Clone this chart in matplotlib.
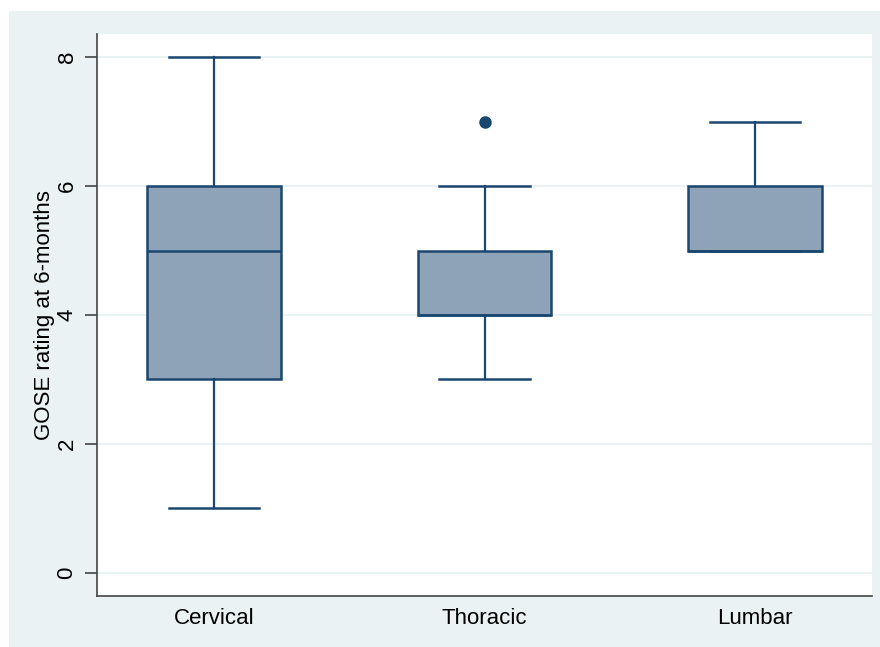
import matplotlib.pyplot as plt
from matplotlib.patches import Rectangle

plt.rcParams['font.family'] = ['Liberation Sans', 'DejaVu Sans']

# GOSE at 6 months by injury level (box plot summary values)
regions = ['Cervical', 'Thoracic', 'Lumbar']
whisker_low = [1, 3, 5]
q1 = [3, 4, 5]
median = [5, 4, 5]
q3 = [6, 5, 6]
whisker_high = [8, 6, 7]
outliers = [[], [7], []]

navy = '#1a476f'
box_fill = '#8fa3b8'
bg = '#eaf2f3'

stats = []
for i, name in enumerate(regions):
    stats.append({'label': name, 'whislo': whisker_low[i], 'q1': q1[i],
                  'med': median[i], 'q3': q3[i], 'whishi': whisker_high[i],
                  'fliers': outliers[i]})

fig = plt.figure(figsize=(8.8, 6.47), dpi=100)
fig.patch.set_facecolor('white')
# stata-style graph region
fig.patches.append(Rectangle((9 / 880, 0), 1, 1 - 11 / 647, transform=fig.transFigure,
                             facecolor=bg, edgecolor='none', zorder=-1))
ax = fig.add_axes([97 / 880, 1 - 596 / 647, (872 - 97) / 880, (596 - 34) / 647])
ax.set_facecolor('white')

ax.bxp(stats, positions=[1, 2, 3], widths=0.495, patch_artist=True,
       boxprops=dict(facecolor=box_fill, edgecolor=navy, linewidth=1.8),
       medianprops=dict(color=navy, linewidth=1.8),
       whiskerprops=dict(color=navy, linewidth=1.6),
       capprops=dict(color=navy, linewidth=1.8),
       capwidths=0.333,
       flierprops=dict(marker='o', markerfacecolor=navy, markeredgecolor=navy,
                       markersize=8))

ax.set_xlim(0.5675, 3.4325)
ax.set_ylim(-0.357, 8.357)
ax.set_yticks([0, 2, 4, 6, 8])
ax.grid(axis='y', color=bg, linewidth=1.5)
ax.set_axisbelow(True)

for side in ['top', 'right']:
    ax.spines[side].set_visible(False)
for side in ['left', 'bottom']:
    ax.spines[side].set_color('#444444')
    ax.spines[side].set_linewidth(1.2)

ax.tick_params(axis='y', length=9, width=1.2, color='#444444', labelsize=16,
               labelrotation=90, pad=5)
ax.tick_params(axis='x', length=0, labelsize=16, pad=9)
for lab in ax.get_yticklabels():
    lab.set_va('center')

ax.set_ylabel('GOSE rating at 6-months', fontsize=16, labelpad=1)

fig.savefig('out.png', dpi=100, facecolor=fig.get_facecolor())
